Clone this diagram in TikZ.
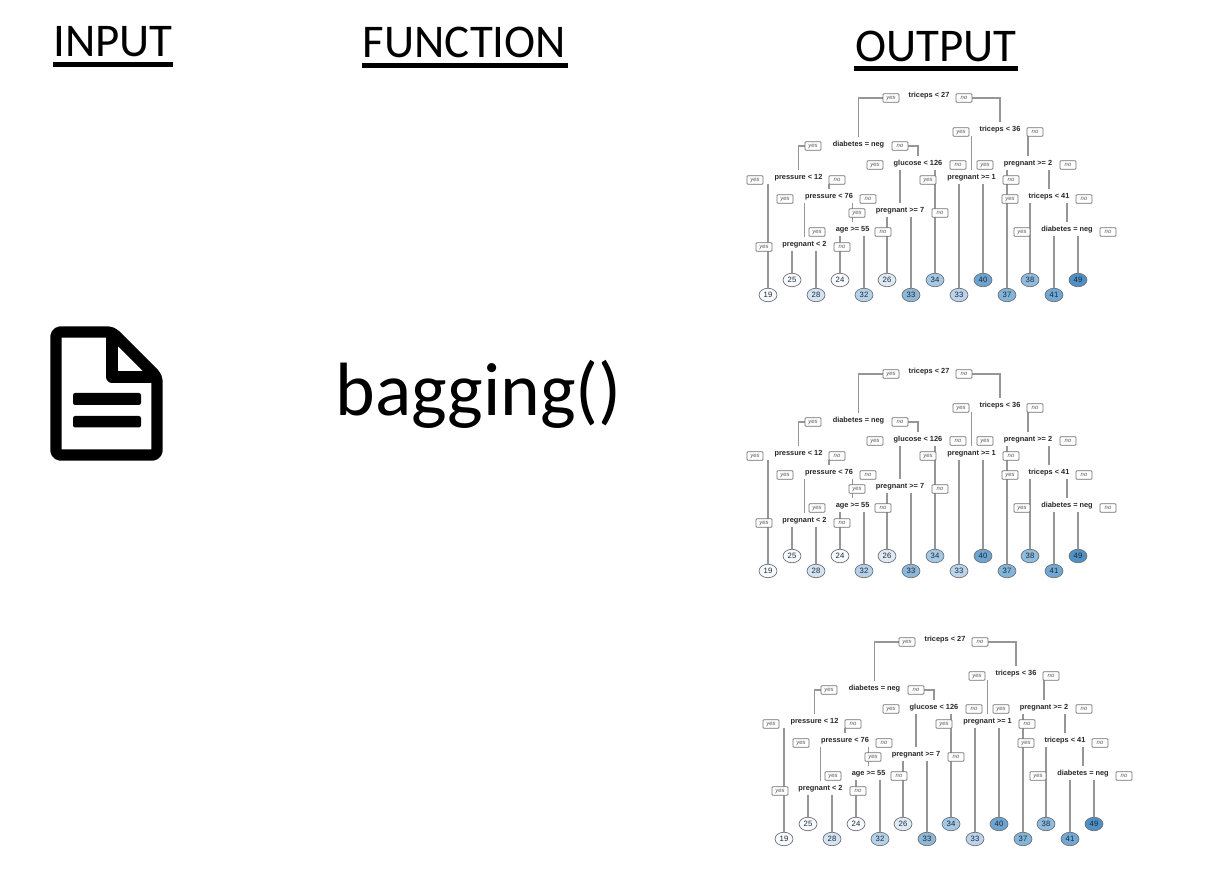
\documentclass[tikz,border=0pt]{standalone}
\usepackage{fontspec}
\setmainfont{Carlito}
\newfontfamily\treefont{Liberation Sans}
\usetikzlibrary{shapes.geometric, backgrounds}
\definecolor{wiregray}{HTML}{969696}
\definecolor{edgegray}{HTML}{707070}
\definecolor{leafa}{HTML}{F7FBFF}
\definecolor{leafc}{HTML}{D3E4F5}
\definecolor{leafe}{HTML}{B5D2EC}
\definecolor{leaff}{HTML}{DEEBF7}
\definecolor{leafg}{HTML}{8DB8DC}
\definecolor{leafh}{HTML}{A3C9E6}
\definecolor{leafi}{HTML}{BAD3EE}
\definecolor{leafj}{HTML}{6AA5D3}
\definecolor{leafk}{HTML}{82B5DC}
\definecolor{leafl}{HTML}{8CBCE0}
\definecolor{leafm}{HTML}{6FA8D6}
\definecolor{leafn}{HTML}{4E90C8}
\tikzset{
  title/.style={anchor=base, inner sep=0pt, font=\fontsize{26.7}{30}\selectfont},
  titleline/.style={line width=2.9pt},
  call/.style={anchor=base, inner sep=0pt, font=\fontsize{43}{50}\selectfont},
  splitnode/.style={inner sep=0pt, minimum height=0.28cm, text height=3pt, text depth=0pt,
    font=\treefont\bfseries\fontsize{4.2}{5}\selectfont, text=black!85},
  yesno/.style={draw=edgegray, line width=0.35pt, fill=white, rounded corners=0.5pt, inner sep=0pt,
    minimum width=0.32cm, minimum height=0.17cm, text height=2pt, text depth=0pt,
    font=\treefont\itshape\fontsize{3.4}{4}\selectfont, text=black!65},
  leafnode/.style={ellipse, draw=edgegray, line width=0.4pt, fill=#1, inner sep=0pt,
    minimum width=0.36cm, minimum height=0.27cm, font=\treefont\fontsize{4.4}{5}\selectfont, text=black!85},
  wire/.style={wiregray, line width=0.6pt}
}
\newcommand{\drawtree}[3]{
\begin{scope}[shift={(#2,#3)}, name prefix=#1-]
% splits
\node [splitnode] (root) at (929,95) {triceps < 27};
\node [splitnode] (diab) at (858.5,144) {diabetes = neg};
\node [splitnode] (gluc) at (918,163) {glucose < 126};
\node [splitnode] (pr12) at (798.5,177) {pressure < 12};
\node [splitnode] (pr76) at (829,196) {pressure < 76};
\node [splitnode] (pg7) at (900,210) {pregnant >= 7};
\node [splitnode] (age) at (852.6,229) {age >= 55};
\node [splitnode] (pg2) at (804.5,244) {pregnant < 2};
\node [splitnode] (tr36) at (1000,129) {triceps < 36};
\node [splitnode] (pgb) at (1028,163) {pregnant >= 2};
\node [splitnode] (pga) at (971.6,177) {pregnant >= 1};
\node [splitnode] (tr41) at (1049,196) {triceps < 41};
\node [splitnode] (dibb) at (1067,229) {diabetes = neg};
% leaves
\node [leafnode=leafa] (lfa) at (768,295) {19};
\node [leafnode=leafa] (lfb) at (792,280) {25};
\node [leafnode=leafc] (lfc) at (816,295) {28};
\node [leafnode=leafa] (lfd) at (840,280) {24};
\node [leafnode=leafe] (lfe) at (864,295) {32};
\node [leafnode=leaff] (lff) at (887,280) {26};
\node [leafnode=leafg] (lfg) at (911,295) {33};
\node [leafnode=leafh] (lfh) at (935,280) {34};
\node [leafnode=leafi] (lfi) at (959,295) {33};
\node [leafnode=leafj] (lfj) at (983,280) {40};
\node [leafnode=leafk] (lfk) at (1007,295) {37};
\node [leafnode=leafl] (lfl) at (1030,280) {38};
\node [leafnode=leafm] (lfm) at (1054,295) {41};
\node [leafnode=leafn] (lfn) at (1078,280) {49};
% yes and no labels
\node [yesno] (ya) at (891,98) {yes};
\node [yesno] (na) at (964,98) {no};
\node [yesno] (yb) at (961,132) {yes};
\node [yesno] (nb) at (1035,132) {no};
\node [yesno] (yc) at (813,146) {yes};
\node [yesno] (nc) at (900,146) {no};
\node [yesno] (yd) at (875,165) {yes};
\node [yesno] (nd) at (958,165) {no};
\node [yesno] (ye) at (985,165) {yes};
\node [yesno] (ne) at (1068,165) {no};
\node [yesno] (yf) at (755,180) {yes};
\node [yesno] (nf) at (837,180) {no};
\node [yesno] (yg) at (928,180) {yes};
\node [yesno] (ng) at (1011,180) {no};
\node [yesno] (yh) at (785,199) {yes};
\node [yesno] (nh) at (868,199) {no};
\node [yesno] (yi) at (1010,199) {yes};
\node [yesno] (ni) at (1084,199) {no};
\node [yesno] (yj) at (857,213) {yes};
\node [yesno] (nj) at (940,213) {no};
\node [yesno] (yk) at (817,232) {yes};
\node [yesno] (nk) at (883,232) {no};
\node [yesno] (yl) at (1022,232) {yes};
\node [yesno] (nl) at (1108,232) {no};
\node [yesno] (ym) at (764,247) {yes};
\node [yesno] (nm) at (842,247) {no};
% wires
\begin{scope}[on background layer]
\draw[wire] (ya.west) -| (diab.north);
\draw[wire] (na.east) -| (tr36.north);
\draw[wire] (yc.west) -| (pr12.north);
\draw[wire] (nc.east) -| (gluc.north);
\draw[wire] (lfa.north) -- (lfa.north |- pr12.south);
\draw[wire] (pr76.north) -- (pr76.north |- pr12.south);
\draw[wire] (pg2.north) -- (pg2.north |- pr76.south);
\draw[wire] (age.north) -- (age.north |- pr76.south);
\draw[wire] (pg7.north) -- (pg7.north |- gluc.south);
\draw[wire] (lfh.north) -- (lfh.north |- gluc.south);
\draw[wire] (lff.north) -- (lff.north |- pg7.south);
\draw[wire] (lfg.north) -- (lfg.north |- pg7.south);
\draw[wire] (lfd.north) -- (lfd.north |- age.south);
\draw[wire] (lfe.north) -- (lfe.north |- age.south);
\draw[wire] (lfb.north) -- (lfb.north |- pg2.south);
\draw[wire] (lfc.north) -- (lfc.north |- pg2.south);
\draw[wire] (pga.north) -- (pga.north |- tr36.south);
\draw[wire] (pgb.north) -- (pgb.north |- tr36.south);
\draw[wire] (lfk.north) -- (lfk.north |- pgb.south);
\draw[wire] (tr41.north) -- (tr41.north |- pgb.south);
\draw[wire] (lfi.north) -- (lfi.north |- pga.south);
\draw[wire] (lfj.north) -- (lfj.north |- pga.south);
\draw[wire] (lfl.north) -- (lfl.north |- tr41.south);
\draw[wire] (dibb.north) -- (dibb.north |- tr41.south);
\draw[wire] (lfm.north) -- (lfm.north |- dibb.south);
\draw[wire] (lfn.north) -- (lfn.north |- dibb.south);
\end{scope}
\end{scope}
}

\begin{document}
\begin{tikzpicture}[x=0.02cm,y=-0.02cm]
\useasboundingbox (0,0) rectangle (1224,888);
% titles
\node [title] (tinput) at (113,57) {INPUT};
\node [title] (tfunc) at (464.5,57.5) {FUNCTION};
\node [title] (toutput) at (936,61.5) {OUTPUT};
\coordinate (ua) at (52.5,64.5);
\coordinate (ub) at (173,64.5);
\coordinate (uc) at (361.5,65.5);
\coordinate (ud) at (567.5,65.5);
\coordinate (ue) at (853.5,68.5);
\coordinate (uf) at (1018,68.5);
\draw[titleline] (ua) -- (ub);
\draw[titleline] (uc) -- (ud);
\draw[titleline] (ue) -- (uf);
% file icon
\draw[line width=6.5pt, line join=round, rounded corners=2.5pt] (56,332) -- (112,332) -- (157,377) -- (157,455) -- (56,455) -- cycle;
\draw[line width=6.5pt, line join=round] (112,332) -- (112,377) -- (157,377);
\fill[rounded corners=1.2pt] (73,393) rectangle (141,405);
\fill[rounded corners=1.2pt] (73,416) rectangle (141,427.5);
\node [call] (fcall) at (478.5,415.7) {bagging()};
% trees
\drawtree{a}{0}{0}
\drawtree{b}{0}{276}
\drawtree{c}{16}{544}
\end{tikzpicture}
\end{document}
